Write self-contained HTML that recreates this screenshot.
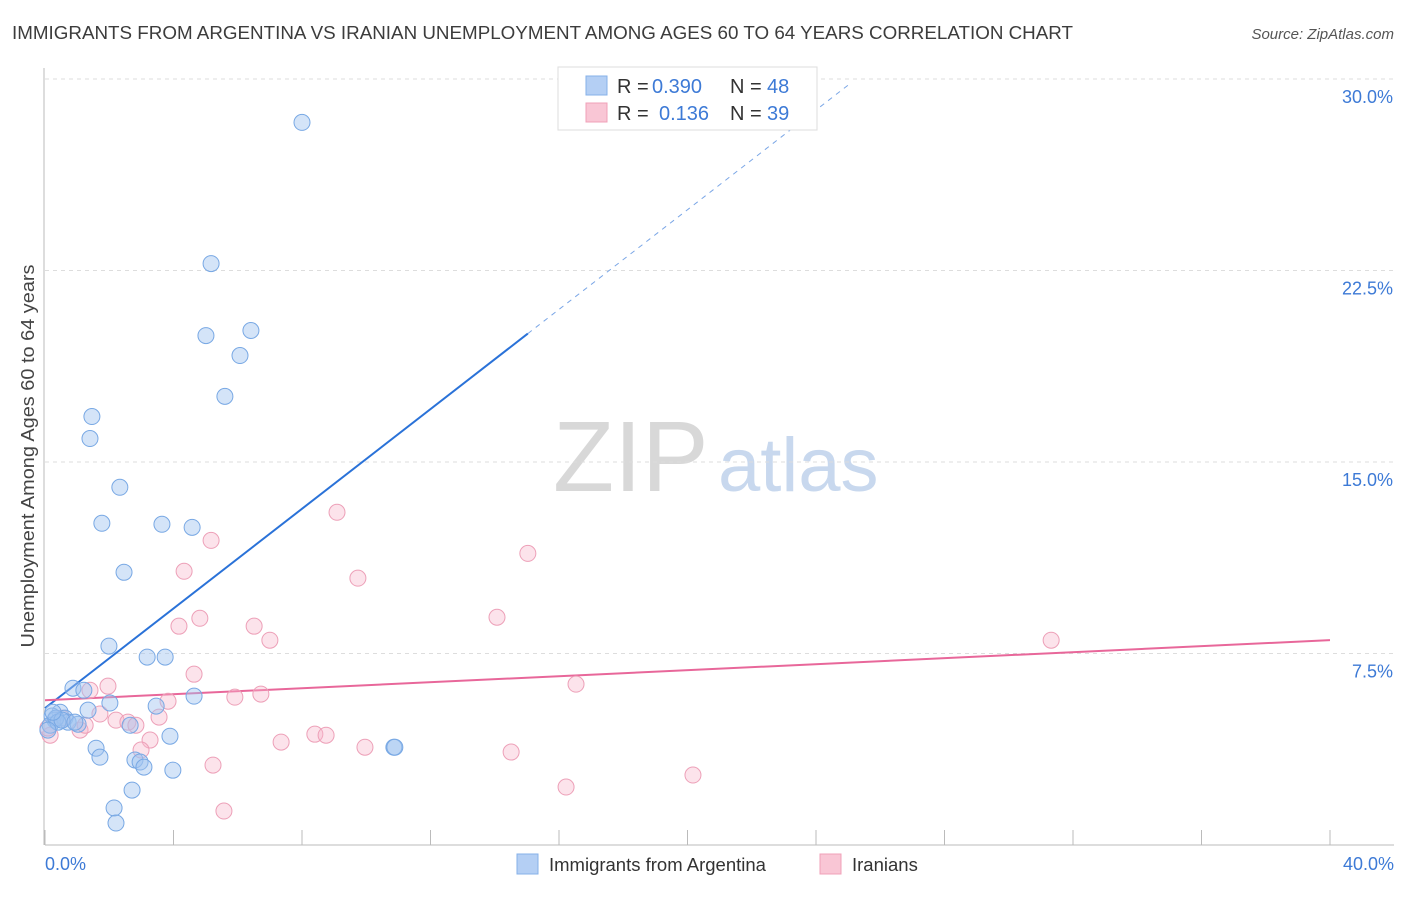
<!DOCTYPE html>
<html><head><meta charset="utf-8"><style>
body{margin:0;background:#fff;font-family:"Liberation Sans",sans-serif;}
svg text{font-family:"Liberation Sans",sans-serif;}
</style></head><body>
<svg id="chart" width="1406" height="892" viewBox="0 0 1406 892">
<text x="12" y="39" font-size="18.8" fill="#3c3c3c" textLength="1061" lengthAdjust="spacingAndGlyphs">IMMIGRANTS FROM ARGENTINA VS IRANIAN UNEMPLOYMENT AMONG AGES 60 TO 64 YEARS CORRELATION CHART</text>
<text x="1394" y="39" font-size="15" fill="#555" font-style="italic" text-anchor="end">Source: ZipAtlas.com</text>
<text transform="translate(34,456) rotate(-90)" font-size="18" fill="#444" text-anchor="middle" textLength="383" lengthAdjust="spacingAndGlyphs">Unemployment Among Ages 60 to 64 years</text>
<g>
<text x="553" y="491" font-size="100" font-family="Liberation Serif,serif" fill="#d8d8d8">ZIP</text>
<text x="718" y="491" font-size="76" fill="#c8d8ee">atlas</text>
</g>
<g id="grid"></g><g id="axes"></g><g id="lines"></g><g id="pts"></g>
<g>
<rect x="558" y="67" width="259" height="63" fill="#fff" stroke="#ddd"/>
<rect x="586" y="76" width="21" height="19" fill="#b4cff4" stroke="#86b0e8"/>
<rect x="586" y="103" width="21" height="19" fill="#f9c6d5" stroke="#f0a0b8"/>
<text x="617" y="93" font-size="20" fill="#333">R =</text>
<text x="652" y="93" font-size="20" fill="#3d7ad6">0.390</text>
<text x="730" y="93" font-size="20" fill="#333">N =</text>
<text x="767" y="93" font-size="20" fill="#3d7ad6">48</text>
<text x="617" y="120" font-size="20" fill="#333">R =</text>
<text x="659" y="120" font-size="20" fill="#3d7ad6">0.136</text>
<text x="730" y="120" font-size="20" fill="#333">N =</text>
<text x="767" y="120" font-size="20" fill="#3d7ad6">39</text>
</g>
<g>
<rect x="517" y="854" width="21" height="20" fill="#b4cff4" stroke="#86b0e8"/>
<text x="549" y="871" font-size="18.5" fill="#333">Immigrants from Argentina</text>
<rect x="820" y="854" width="21" height="20" fill="#f9c6d5" stroke="#f0a0b8"/>
<text x="852" y="871" font-size="18.5" fill="#333">Iranians</text>
</g>
</svg>
<script>
const yTicks=[7.5,15,22.5,30];
const yTickLabels=["7.5%","15.0%","22.5%","30.0%"];
const xTickCount=10;
const xLabels=["0.0%","40.0%"];
const blueX=[8.0,5.17,5.01,6.41,6.07,5.60,1.46,1.40,2.33,1.77,3.64,4.58,2.46,1.99,3.18,3.74,0.87,1.21,4.64,2.02,3.46,1.34,0.47,0.22,0.62,0.31,0.72,1.03,2.65,3.89,1.59,1.71,2.80,2.96,3.08,3.98,10.86,10.89,2.71,2.15,2.21,0.16,0.34,0.40,0.53,0.09,0.25,0.93];
const blueY=[28.3,22.77,19.95,20.15,19.17,17.57,16.78,15.92,14.01,12.60,12.56,12.44,10.68,7.79,7.36,7.36,6.14,6.06,5.83,5.56,5.44,5.28,5.20,5.05,4.97,4.89,4.81,4.73,4.69,4.26,3.79,3.44,3.33,3.25,3.05,2.93,3.83,3.83,2.15,1.45,0.86,4.69,4.97,4.81,4.89,4.50,5.20,4.81];
const pinkX=[9.09,5.17,15.03,4.33,9.74,14.07,4.82,4.17,6.51,7.00,31.32,4.64,1.96,1.40,16.53,3.83,5.91,6.72,1.71,3.55,2.21,2.58,2.83,1.09,3.27,2.99,7.35,8.40,8.75,9.96,14.51,5.23,20.17,16.22,5.57,0.16,0.09,0.53,1.25];
const pinkY=[13.03,11.93,11.42,10.72,10.45,8.92,8.88,8.57,8.57,8.02,8.02,6.69,6.22,6.06,6.30,5.63,5.79,5.91,5.13,5.01,4.89,4.81,4.69,4.50,4.11,3.72,4.03,4.34,4.30,3.83,3.64,3.13,2.74,2.27,1.33,4.30,4.58,4.97,4.69];
const blueFit=[5.36,0.976];
const blueSolidEnd=15.03, blueDashEnd=25.0;
const pinkFit=[5.67,0.0588];
const X0=45,X1=1330,Y0=845,YTOP=79;
const sx=v=>X0+(X1-X0)*v/40;
const sy=v=>Y0-(Y0-YTOP)*v/30;
const NS="http://www.w3.org/2000/svg";
function mk(tag,attrs,parent){const e=document.createElementNS(NS,tag);for(const k in attrs)e.setAttribute(k,attrs[k]);parent.appendChild(e);return e;}
const grid=document.getElementById('grid'),axes=document.getElementById('axes'),lines=document.getElementById('lines'),pts=document.getElementById('pts');
yTicks.forEach((t,i)=>{
  const l=mk('line',{x1:X0,x2:1394,y1:sy(t),y2:sy(t),stroke:'#ddd','stroke-dasharray':'4,4'},grid);
  
  
  const tx=mk('text',{x:1393,y:sy(t)+24,'font-size':18,fill:'#3d7ad6','text-anchor':'end'},grid);
  tx.textContent=yTickLabels[i];
  
  
});
const ax=mk('line',{x1:X0,x2:1394,y1:Y0,y2:Y0,stroke:'#bbb'},axes);


const ay=mk('line',{x1:X0-1,x2:X0-1,y1:68,y2:Y0,stroke:'#bbb'},axes);


for(let i=0;i<=xTickCount;i++){
  const x=sx(40*i/xTickCount);
  const t=mk('line',{x1:x,x2:x,y1:Y0,y2:Y0-15,stroke:'#bbb'},axes);
  
  
}
[[0,'start',45],[40,'end',1394]].forEach((d,i)=>{
  const t=mk('text',{x:d[2],y:870,'font-size':18,fill:'#3d7ad6','text-anchor':d[1]},axes);
  t.textContent=xLabels[i];
  
  
});
function circles(xs,ys,fill,stroke,name){
  xs.forEach((v,i)=>{
    const c=mk('circle',{cx:sx(v),cy:sy(ys[i]),r:8,fill:fill,stroke:stroke,'stroke-width':1},pts);
    
    
  });
}
circles(pinkX,pinkY,'rgba(248,182,202,0.38)','#eda0b8','iranians-point');
circles(blueX,blueY,'rgba(160,196,240,0.45)','#78a8e4','argentina-point');
const bl=mk('line',{x1:sx(0),y1:sy(blueFit[0]),x2:sx(blueSolidEnd),y2:sy(blueFit[0]+blueFit[1]*blueSolidEnd),stroke:'#2a72d8','stroke-width':2},lines);


const bd=mk('line',{x1:sx(blueSolidEnd),y1:sy(blueFit[0]+blueFit[1]*blueSolidEnd),x2:sx(blueDashEnd),y2:sy(blueFit[0]+blueFit[1]*blueDashEnd),stroke:'#7aa6e6','stroke-width':1,'stroke-dasharray':'5,5'},lines);


const pl=mk('line',{x1:sx(0),y1:sy(pinkFit[0]),x2:sx(40),y2:sy(pinkFit[0]+pinkFit[1]*40),stroke:'#e8679a','stroke-width':2},lines);


</script>
</body></html>
